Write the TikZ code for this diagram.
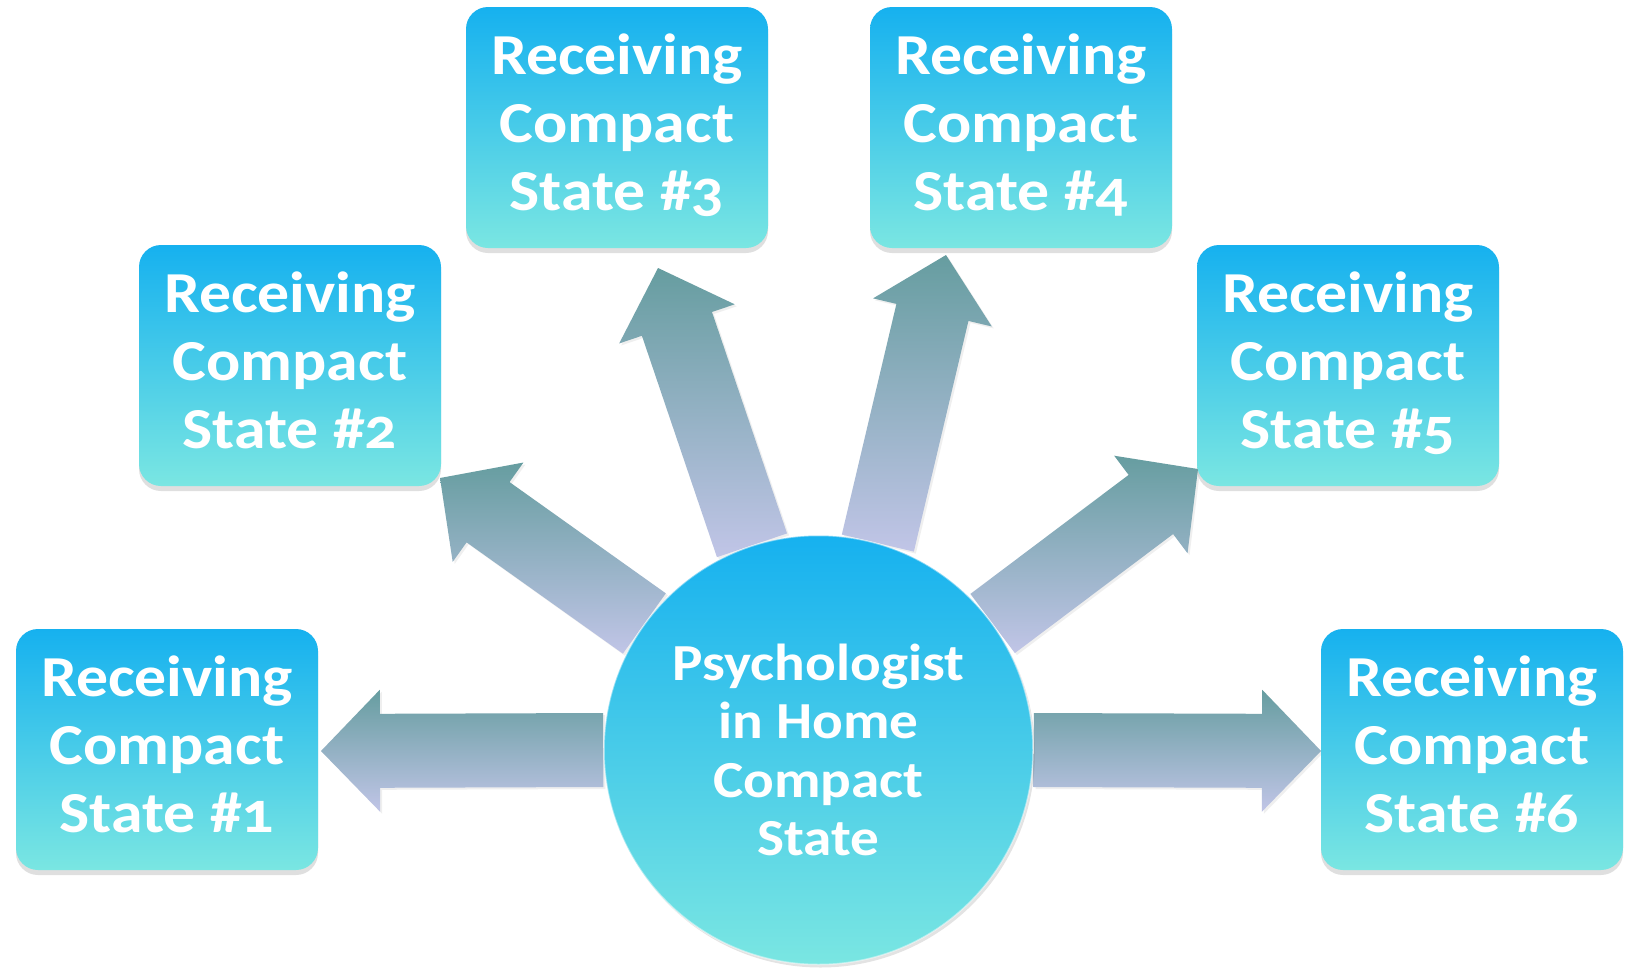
\documentclass[tikz,border=0pt]{standalone}
\usepackage{fontspec}
\setmainfont{Carlito}[Numbers=OldStyle, FakeStretch=1.1]
\usetikzlibrary{calc,shadows}
\pgfdeclarelayer{bg}
\pgfsetlayers{bg,main}
\definecolor{boxtop}{RGB}{22,177,239}
\definecolor{boxbot}{RGB}{122,230,226}
\definecolor{arrtop}{RGB}{102,157,160}
\definecolor{arrbot}{RGB}{193,197,231}
\begin{document}
\begin{tikzpicture}[x=1pt,y=-1pt,
  statebox/.style={rounded corners=22pt, minimum width=302pt, minimum height=241pt,
    inner sep=0pt, top color=boxtop, bottom color=boxbot, draw=none, text=white,
    align=center, font=\fontsize{58}{68}\selectfont\bfseries,
    drop shadow={shadow xshift=0pt, shadow yshift=-5pt, opacity=0.25}},
  hub/.style={circle, minimum size=429pt, inner sep=0pt, top color=boxtop,
    bottom color=boxbot, draw=white, draw opacity=0.45, line width=1.5pt, text=white,
    align=center, font=\fontsize{52}{58.5}\selectfont\bfseries,
    drop shadow={shadow xshift=2pt, shadow yshift=-3pt, opacity=0.22}},
  blockarrow/.style={top color=arrtop, bottom color=arrbot, draw=none,
    drop shadow={shadow xshift=2pt, shadow yshift=-2pt, opacity=0.12},
    to path={($(\tikztostart)!37pt!90:(\tikztotarget)$)
      -- ($(\tikztotarget)!59pt!(\tikztostart)!37pt!90:(\tikztotarget)$)
      -- ($(\tikztotarget)!59pt!(\tikztostart)!61pt!90:(\tikztotarget)$)
      -- (\tikztotarget)
      -- ($(\tikztotarget)!59pt!(\tikztostart)!61pt!-90:(\tikztotarget)$)
      -- ($(\tikztotarget)!59pt!(\tikztostart)!37pt!-90:(\tikztotarget)$)
      -- ($(\tikztostart)!37pt!-90:(\tikztotarget)$) -- cycle}}]
\useasboundingbox (0,0) rectangle (1628,967);

\node[hub] (c) at (818.5,750) {Psychologist\\in Home\\Compact\\State};

\node[statebox] (b1) at (167,749.5) {Receiving\\Compact\\State \#1\vphantom{g}};
\node[statebox] (b2) at (290,365.5) {Receiving\\Compact\\State \#2\vphantom{g}};
\node[statebox] (b3) at (617,127.5) {Receiving\\Compact\\State \#3\vphantom{g}};
\node[statebox] (b4) at (1021,127.5) {Receiving\\Compact\\State \#4\vphantom{g}};
\node[statebox] (b5) at (1348,365.5) {Receiving\\Compact\\State \#5\vphantom{g}};
\node[statebox] (b6) at (1472,749.5) {Receiving\\Compact\\State \#6\vphantom{g}};

\coordinate (t1) at (321,751);
\coordinate (t2) at (440,478);
\coordinate (t3) at (658,268);
\coordinate (t4) at (946,255);
\coordinate (t5) at (1198,469);
\coordinate (t6) at (1321,751);

\begin{pgfonlayer}{bg}
\fill[white] (0,0) rectangle (1628,967);
\path[blockarrow] (c.180) to (t1);
\path[blockarrow] (c.144) to (t2);
\path[blockarrow] (c.108) to (t3);
\path[blockarrow] (c.74) to (t4);
\path[blockarrow] (c.36) to (t5);
\path[blockarrow] (c.0) to (t6);
\end{pgfonlayer}
\end{tikzpicture}
\end{document}
